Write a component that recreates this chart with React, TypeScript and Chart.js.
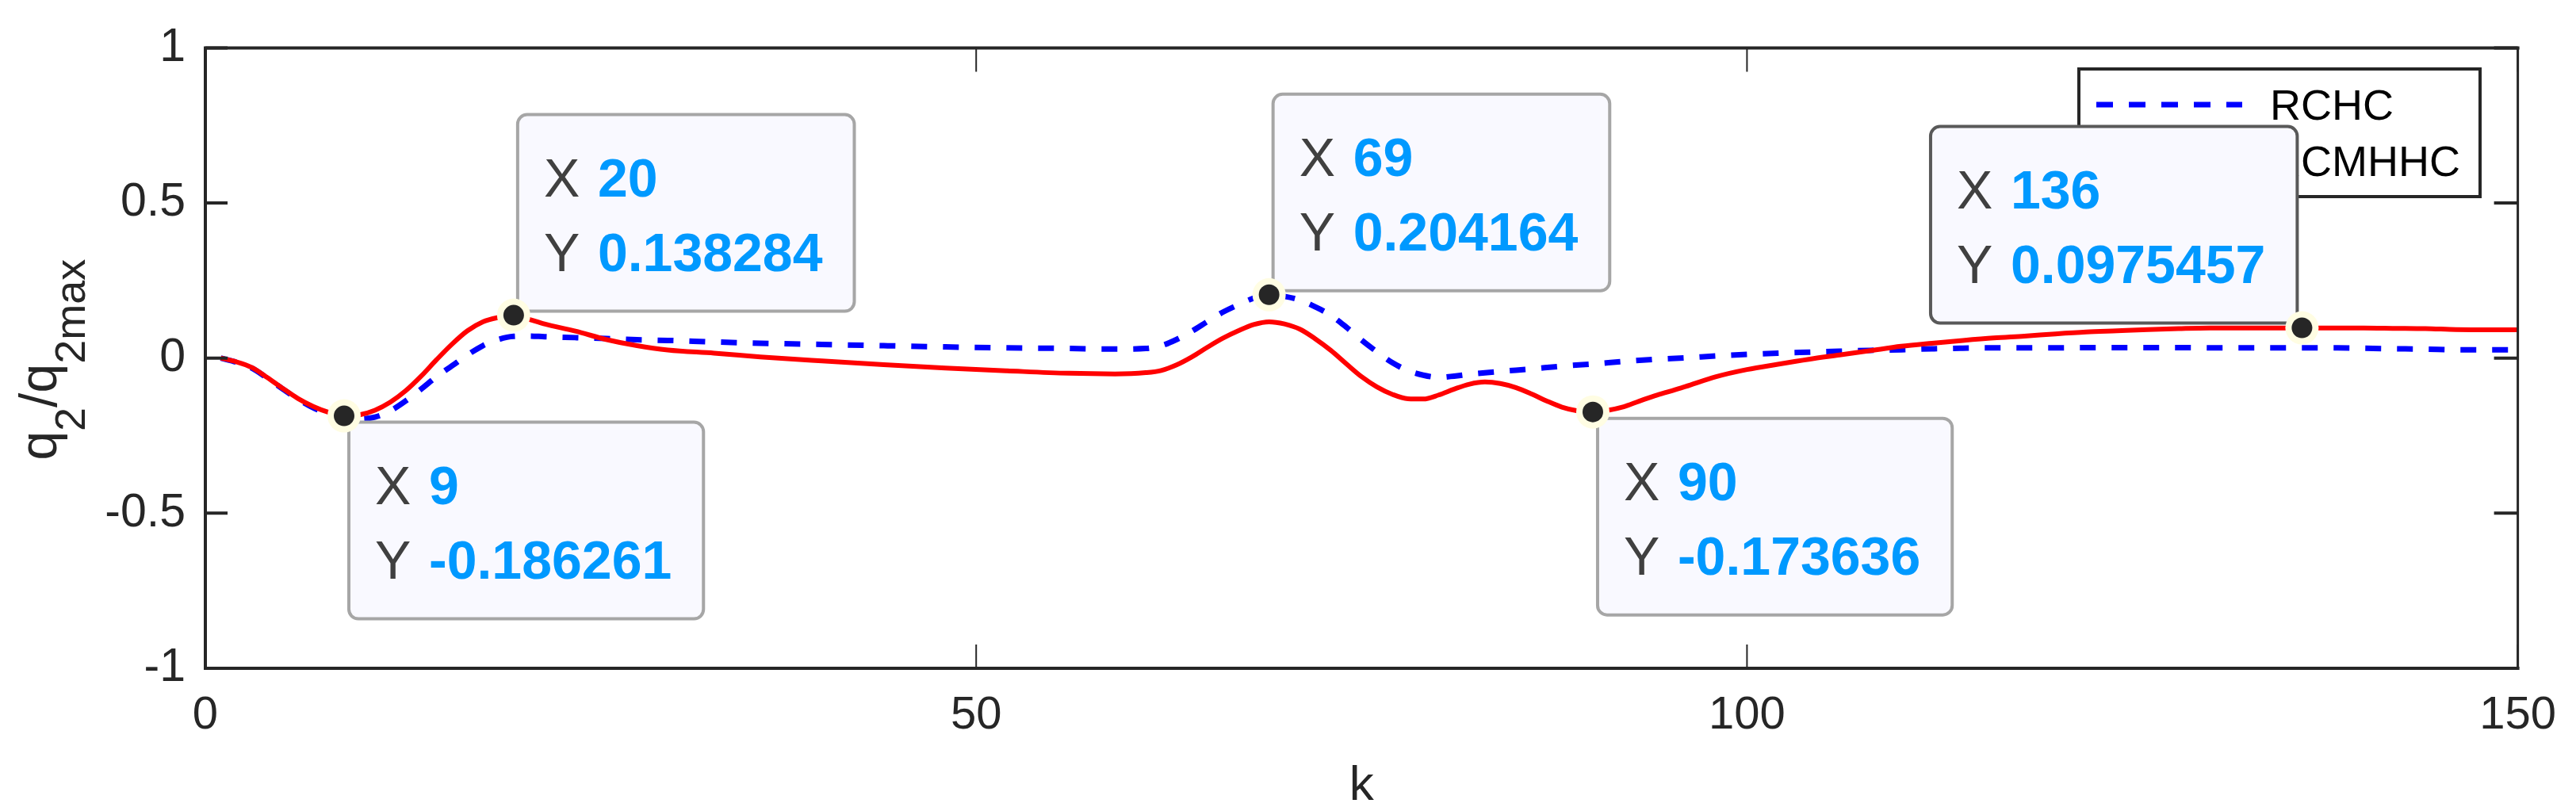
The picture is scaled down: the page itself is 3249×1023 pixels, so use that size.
import React, { useEffect, useRef } from 'react';
import { Chart, registerables } from 'chart.js';

Chart.register(...registerables);

const CANVAS_W = 3249;
const CANVAS_H = 1023;

// RCHC (blue dashed)
const kRCHC = [1,2,3,4,5,6,7,8,9,10,11,12,13,14,15,16,17,18,19,20,21,22,24,26,28,30,33,36,40,44,48,52,56,59,61,62,63,64,65,66,67,68,69,70,71,72,73,74,75,76,77,78,79,80,81,82,84,86,88,90,92,94,96,98,100,102,104,106,108,110,112,114,116,118,120,122,124,126,128,130,132,134,136,138,140,142,144,146,148,150];
const rchcValues = [0,-0.013,-0.032,-0.064,-0.099,-0.132,-0.160,-0.180,-0.192,-0.196,-0.190,-0.170,-0.138,-0.100,-0.060,-0.025,0.010,0.040,0.060,0.070,0.071,0.069,0.066,0.063,0.059,0.057,0.052,0.048,0.044,0.040,0.036,0.033,0.031,0.029,0.031,0.040,0.060,0.087,0.118,0.148,0.172,0.193,0.2042,0.199,0.187,0.165,0.138,0.100,0.058,0.020,-0.015,-0.040,-0.055,-0.062,-0.058,-0.052,-0.043,-0.035,-0.026,-0.019,-0.011,-0.004,0.001,0.007,0.012,0.016,0.019,0.022,0.025,0.027,0.030,0.032,0.033,0.033,0.033,0.034,0.034,0.034,0.034,0.033,0.033,0.033,0.033,0.033,0.032,0.030,0.029,0.027,0.027,0.027];

// RCMHHC (red solid)
const kRCMHHC = [1,2,3,4,5,6,7,8,9,10,11,12,13,14,15,16,17,18,19,20,21,22,24,26,28,30,33,36,40,44,48,52,56,59,61,62,63,64,65,66,67,68,69,70,71,72,73,74,75,76,77,78,79,80,81,82,83,84,85,86,87,88,89,90,91,92,93,94,95,96,98,100,102,104,106,108,110,112,114,116,118,120,122,124,126,128,130,132,134,136,138,140,142,144,146,148,150];
const rcmhhcValues = [0,-0.012,-0.030,-0.062,-0.097,-0.130,-0.156,-0.175,-0.1863,-0.183,-0.168,-0.142,-0.105,-0.058,-0.005,0.045,0.088,0.117,0.131,0.1383,0.125,0.110,0.087,0.060,0.040,0.026,0.016,0.004,-0.009,-0.021,-0.032,-0.041,-0.049,-0.051,-0.047,-0.040,-0.022,0.004,0.035,0.064,0.088,0.108,0.117,0.110,0.093,0.062,0.025,-0.018,-0.060,-0.093,-0.117,-0.131,-0.132,-0.119,-0.100,-0.084,-0.077,-0.082,-0.095,-0.115,-0.138,-0.158,-0.170,-0.1736,-0.168,-0.157,-0.139,-0.122,-0.107,-0.092,-0.060,-0.037,-0.020,-0.004,0.010,0.024,0.038,0.048,0.057,0.065,0.071,0.078,0.084,0.088,0.092,0.095,0.097,0.097,0.097,0.0975,0.097,0.097,0.096,0.095,0.092,0.091,0.091];

const xTickValues = [0, 50, 100, 150];
const yTickValues = [-1, -0.5, 0, 0.5, 1];
const seriesLabels = ['RCHC', 'RCMHHC'];
const xAxisTitle = 'k';

// data tips
const tipK = [9, 20, 69, 90, 136];
const tipValue = [-0.186261, 0.138284, 0.204164, -0.173636, 0.0975457];
const tipText = ['-0.186261', '0.138284', '0.204164', '-0.173636', '0.0975457'];
const tipSide = ['below-right', 'above-right', 'above-right', 'below-right', 'above-left'];
const tipSelected = [false, false, false, false, true];

const FONT = '"Liberation Sans", Arial, Helvetica, sans-serif';
const AXIS = '#262626';

const overlayPlugin = {
  id: 'matlabOverlay',
  afterDraw(chart: any) {
    const ctx: CanvasRenderingContext2D = chart.ctx;
    const xs = chart.scales.x;
    const ys = chart.scales.y;
    const { left, right, top, bottom } = chart.chartArea;
    ctx.save();

    // tick marks
    ctx.strokeStyle = AXIS;
    ctx.lineCap = 'butt';
    ctx.lineWidth = 4;
    yTickValues.forEach((v) => {
      const py = ys.getPixelForValue(v);
      ctx.beginPath();
      ctx.moveTo(left, py); ctx.lineTo(left + 28, py);
      ctx.moveTo(right, py); ctx.lineTo(right - 30, py);
      ctx.stroke();
    });
    ctx.lineWidth = 2;
    xTickValues.forEach((v) => {
      const px = xs.getPixelForValue(v);
      ctx.beginPath();
      ctx.moveTo(px, bottom); ctx.lineTo(px, bottom - 30);
      ctx.moveTo(px, top); ctx.lineTo(px, top + 30);
      ctx.stroke();
    });

    // box
    ctx.lineWidth = 4;
    ctx.beginPath();
    ctx.moveTo(left, top - 2); ctx.lineTo(left, bottom + 2);
    ctx.moveTo(left - 2, top); ctx.lineTo(right + 2, top);
    ctx.moveTo(left - 2, bottom); ctx.lineTo(right + 2, bottom);
    ctx.stroke();
    ctx.lineWidth = 3;
    ctx.beginPath();
    ctx.moveTo(right, top); ctx.lineTo(right, bottom);
    ctx.stroke();

    // y-axis title q_2/q_2max
    ctx.save();
    ctx.translate(71, (top + bottom) / 2 + 2);
    ctx.rotate(-Math.PI / 2);
    ctx.fillStyle = AXIS;
    ctx.textBaseline = 'alphabetic';
    ctx.textAlign = 'left';
    const mainF = `66px ${FONT}`;
    const subF = `54px ${FONT}`;
    const parts: [string, boolean][] = [['q', false], ['2', true], ['/q', false], ['2max', true]];
    let total = 0;
    parts.forEach(([t, sub]) => { ctx.font = sub ? subF : mainF; total += ctx.measureText(t).width; });
    let cx = -total / 2;
    parts.forEach(([t, sub]) => {
      ctx.font = sub ? subF : mainF;
      ctx.fillText(t, cx, sub ? 36 : 0);
      cx += ctx.measureText(t).width;
    });
    ctx.restore();

    // legend
    const lx = 2622, ly = 87, lw = 506, lh = 161;
    ctx.fillStyle = '#ffffff';
    ctx.fillRect(lx, ly, lw, lh);
    ctx.strokeStyle = AXIS;
    ctx.lineWidth = 4;
    ctx.strokeRect(lx, ly, lw, lh);
    ctx.strokeStyle = '#0000ff';
    ctx.lineWidth = 7;
    ctx.setLineDash([21, 20]);
    ctx.beginPath(); ctx.moveTo(2644, 132); ctx.lineTo(2828, 132); ctx.stroke();
    ctx.setLineDash([]);
    ctx.strokeStyle = '#ff0000';
    ctx.lineWidth = 6;
    ctx.beginPath(); ctx.moveTo(2644, 203); ctx.lineTo(2828, 203); ctx.stroke();
    ctx.fillStyle = '#000000';
    ctx.font = `54px ${FONT}`;
    ctx.textBaseline = 'alphabetic';
    ctx.fillText(seriesLabels[0], 2863, 151);
    ctx.fillText(seriesLabels[1], 2863, 222);

    // data tips
    tipK.forEach((k, i) => {
      const px = xs.getPixelForValue(k);
      const py = ys.getPixelForValue(tipValue[i]);
      ctx.font = `bold 68px ${FONT}`;
      const wVal = Math.max(ctx.measureText(String(k)).width, ctx.measureText(tipText[i]).width);
      const bw = 33 + 68 + wVal + 40;
      const bh = 248;
      let bx = px + 6, by = py + 8;
      if (tipSide[i] === 'above-right') { bx = px + 5; by = py - 5 - bh; }
      if (tipSide[i] === 'above-left') { bx = px - 6 - bw; by = py - 6 - bh; }
      ctx.beginPath();
      (ctx as any).roundRect(bx, by, bw, bh, 12);
      ctx.fillStyle = '#f9f9ff';
      ctx.fill();
      ctx.lineWidth = 4;
      ctx.strokeStyle = tipSelected[i] ? '#595959' : '#a6a6a6';
      ctx.stroke();
      ctx.textBaseline = 'alphabetic';
      ctx.textAlign = 'left';
      ctx.font = `68px ${FONT}`;
      ctx.fillStyle = '#404040';
      ctx.fillText('X', bx + 33, by + 103);
      ctx.fillText('Y', bx + 33, by + 197);
      ctx.font = `bold 68px ${FONT}`;
      ctx.fillStyle = '#0099ff';
      ctx.fillText(String(k), bx + 33 + 68, by + 103);
      ctx.fillText(tipText[i], bx + 33 + 68, by + 197);
      // marker
      ctx.beginPath();
      ctx.arc(px, py, 21, 0, Math.PI * 2);
      ctx.fillStyle = '#fffde3';
      ctx.fill();
      ctx.beginPath();
      ctx.arc(px, py, 13, 0, Math.PI * 2);
      ctx.fillStyle = AXIS;
      ctx.fill();
    });

    ctx.restore();
  },
};

export default function App() {
  const canvasRef = useRef<HTMLCanvasElement | null>(null);

  useEffect(() => {
    const canvas = canvasRef.current;
    if (!canvas) return;
    const chart = new Chart(canvas, {
      type: 'line',
      data: {
        datasets: [
          {
            label: seriesLabels[0],
            data: kRCHC.map((k, i) => ({ x: k, y: rchcValues[i] })),
            borderColor: '#0000ff',
            borderWidth: 7,
            borderDash: [20, 20],
            borderCapStyle: 'butt',
            pointRadius: 0,
            cubicInterpolationMode: 'monotone',
            fill: false,
            order: 1,
          },
          {
            label: seriesLabels[1],
            data: kRCMHHC.map((k, i) => ({ x: k, y: rcmhhcValues[i] })),
            borderColor: '#ff0000',
            borderWidth: 6,
            pointRadius: 0,
            cubicInterpolationMode: 'monotone',
            fill: false,
            order: 0,
          },
        ],
      },
      options: {
        responsive: false,
        animation: false,
        devicePixelRatio: 1,
        events: [],
        layout: { padding: { top: 43, right: 68, left: 0, bottom: 0 } },
        plugins: { legend: { display: false }, tooltip: { enabled: false } },
        scales: {
          x: {
            type: 'linear',
            min: 0,
            max: 150,
            afterFit: (s: any) => { s.height = 180; },
            afterBuildTicks: (s: any) => { s.ticks = xTickValues.map((v) => ({ value: v })); },
            grid: { display: false, drawTicks: false },
            border: { display: false },
            ticks: {
              font: { family: FONT, size: 58, lineHeight: 1.2 },
              color: AXIS,
              padding: 25,
              maxRotation: 0,
              autoSkip: false,
              callback: (v: any) => String(v),
            },
            title: {
              display: true,
              text: xAxisTitle,
              font: { family: FONT, size: 62, lineHeight: 1 },
              color: AXIS,
              padding: 0,
            },
          },
          y: {
            type: 'linear',
            min: -1,
            max: 1,
            afterFit: (s: any) => { s.width = 259; },
            afterBuildTicks: (s: any) => { s.ticks = yTickValues.map((v) => ({ value: v })); },
            grid: { display: false, drawTicks: false },
            border: { display: false },
            ticks: {
              font: { family: FONT, size: 59, lineHeight: 1.2 },
              color: AXIS,
              padding: 25,
              autoSkip: false,
              callback: (v: any) => String(v),
            },
          },
        },
      } as any,
      plugins: [overlayPlugin],
    });
    return () => chart.destroy();
  }, []);

  return (
    <div style={{ position: 'absolute', left: 0, top: 0, width: CANVAS_W, height: CANVAS_H, background: '#ffffff' }}>
      <canvas ref={canvasRef} width={CANVAS_W} height={CANVAS_H} style={{ display: 'block', width: CANVAS_W, height: CANVAS_H }} />
    </div>
  );
}
